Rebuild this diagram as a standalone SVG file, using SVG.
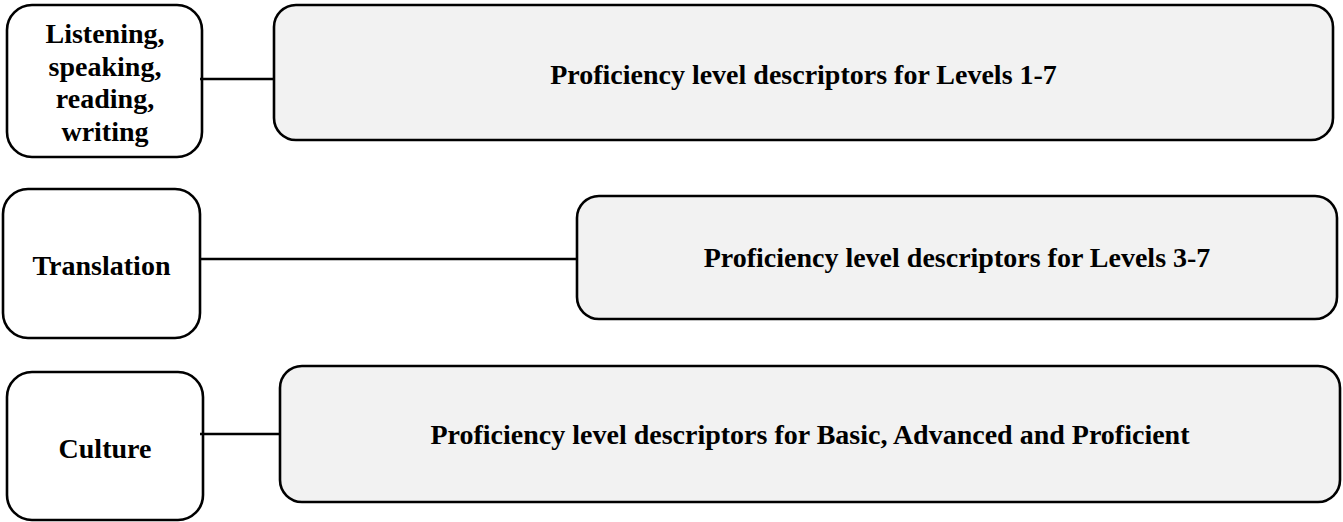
<svg xmlns="http://www.w3.org/2000/svg" width="1343" height="522" viewBox="0 0 1343 522">
<style>
.l{fill:#fff;stroke:#000;stroke-width:2.6}
.r{fill:#f2f2f2;stroke:#000;stroke-width:2.6}
.t{font-family:"Liberation Serif","Times New Roman",serif;font-weight:bold;font-size:28px;fill:#000;text-anchor:middle}
.c{stroke:#000;stroke-width:2.6;fill:none}
</style>
<rect width="1343" height="522" fill="#fff"/>
<g id="n1">
<rect class="l" x="7" y="5" width="195" height="152" rx="25"/>
<text class="t"><tspan x="105" y="43">Listening,</tspan><tspan x="105" y="76">speaking,</tspan><tspan x="105" y="108">reading,</tspan><tspan x="105" y="141">writing</tspan></text>
</g>
<g id="n2">
<rect class="r" x="274" y="5" width="1059" height="135" rx="22"/>
<text class="t" x="803.5" y="84">Proficiency level descriptors for Levels 1-7</text>
</g>
<g id="n3">
<rect class="l" x="3" y="189" width="197" height="149" rx="25"/>
<text class="t" x="101.5" y="275">Translation</text>
</g>
<g id="n4">
<rect class="r" x="577" y="196" width="760" height="123" rx="22"/>
<text class="t" x="957" y="267">Proficiency level descriptors for Levels 3-7</text>
</g>
<g id="n5">
<rect class="l" x="7" y="372" width="196" height="148" rx="25"/>
<text class="t" x="105" y="458">Culture</text>
</g>
<g id="n6">
<rect class="r" x="280" y="366" width="1060" height="136" rx="22"/>
<text class="t" x="810" y="444">Proficiency level descriptors for Basic, Advanced and Proficient</text>
</g>
<g id="connectors">
<line class="c" x1="200" y1="79" x2="274" y2="79"/>
<line class="c" x1="200" y1="259" x2="577" y2="259"/>
<line class="c" x1="200" y1="434" x2="280" y2="434"/>
</g>
</svg>
